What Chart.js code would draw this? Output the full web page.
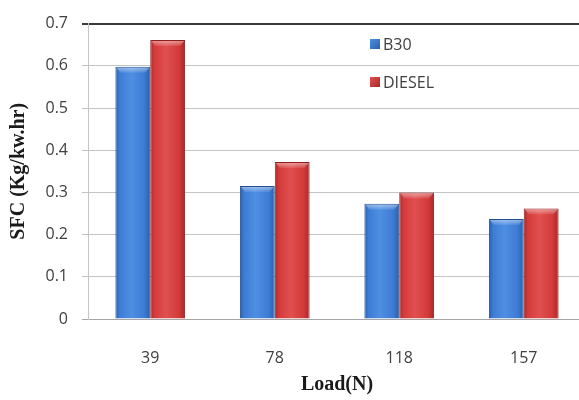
<!DOCTYPE html>
<html>
<head>
<meta charset="utf-8">
<script src="https://cdn.jsdelivr.net/npm/chart.js@4/dist/chart.umd.min.js"></script>
<style>
  html, body { margin: 0; padding: 0; background: #ffffff; overflow: hidden; }
  #wrap { width: 579px; height: 400px; overflow: hidden; position: relative; }
  canvas { display: block; }
</style>
</head>
<body>
<div id="wrap"><canvas id="c" width="590" height="400"></canvas></div>
<script>
// Specific fuel consumption at each engine load
const loads = ['39', '78', '118', '157'];
const sfcB30 = [0.598, 0.315, 0.273, 0.237];
const sfcDiesel = [0.661, 0.372, 0.300, 0.262];
const seriesNames = ['B30', 'DIESEL'];
const yTicks = [0, 0.1, 0.2, 0.3, 0.4, 0.5, 0.6, 0.7];

const palette = {
  B30: { light: '#4f8fe2', mid: '#3d7cd4', dark: '#2a5fae', edge: '#234f92' },
  DIESEL: { light: '#e05050', mid: '#d43a3a', dark: '#ab2828', edge: '#8e1f1f' }
};

// Horizontal shading and bevel for each bar
const barShade = {
  id: 'barShade',
  beforeDatasetsDraw(chart) {
    const ctx = chart.ctx;
    chart.data.datasets.forEach((ds, i) => {
      const p = palette[ds.label];
      chart.getDatasetMeta(i).data.forEach(el => {
        const l = el.x - el.width / 2, r = el.x + el.width / 2;
        const g = ctx.createLinearGradient(l, 0, r, 0);
        g.addColorStop(0, p.dark);
        g.addColorStop(0.12, p.mid);
        g.addColorStop(0.45, p.light);
        g.addColorStop(0.82, p.mid);
        g.addColorStop(1, p.dark);
        el.options = Object.assign({}, el.options, { backgroundColor: g, borderColor: p.edge });
      });
    });
  },
  afterDatasetsDraw(chart) {
    const ctx = chart.ctx;
    ctx.save();
    chart.data.datasets.forEach((ds, i) => {
      chart.getDatasetMeta(i).data.forEach(el => {
        const l = el.x - el.width / 2, r = el.x + el.width / 2, t = el.y;
        ctx.beginPath();
        ctx.moveTo(l + 1, t + 1);
        ctx.lineTo(r - 1, t + 1);
        ctx.lineTo(r - 5, t + 6);
        ctx.lineTo(l + 5, t + 6);
        ctx.closePath();
        const g = ctx.createLinearGradient(0, t, 0, t + 6);
        g.addColorStop(0, 'rgba(255,255,255,0.5)');
        g.addColorStop(1, 'rgba(255,255,255,0.08)');
        ctx.fillStyle = g;
        ctx.fill();
      });
    });
    ctx.restore();
  }
};

// Legend inside the plot area
const innerLegend = {
  id: 'innerLegend',
  afterDraw(chart) {
    const ctx = chart.ctx;
    ctx.save();
    ctx.font = '16px "Open Sans", sans-serif';
    ctx.textBaseline = 'middle';
    ctx.textAlign = 'left';
    chart.data.datasets.forEach((ds, i) => {
      const p = palette[ds.label];
      const y = 44 + i * 38;
      const g = ctx.createLinearGradient(370, y - 5, 380, y + 5);
      g.addColorStop(0, p.light);
      g.addColorStop(1, p.dark);
      ctx.fillStyle = g;
      ctx.fillRect(370, y - 5, 10, 10);
      ctx.fillStyle = '#404040';
      ctx.fillText(ds.label, 383, y + 1);
    });
    ctx.restore();
  }
};

new Chart(document.getElementById('c'), {
  type: 'bar',
  data: {
    labels: loads,
    datasets: [
      { label: seriesNames[0], data: sfcB30, backgroundColor: palette.B30.mid, borderColor: palette.B30.edge, borderWidth: 1 },
      { label: seriesNames[1], data: sfcDiesel, backgroundColor: palette.DIESEL.mid, borderColor: palette.DIESEL.edge, borderWidth: 1 }
    ]
  },
  options: {
    responsive: false,
    animation: false,
    layout: { padding: { top: 14, right: 4, left: 0, bottom: 0 } },
    plugins: { legend: { display: false }, tooltip: { enabled: false } },
    datasets: { bar: { categoryPercentage: 0.56, barPercentage: 1.0 } },
    scales: {
      x: {
        grid: { display: false },
        border: { display: true, color: '#a6a6a6', width: 1 },
        ticks: { color: '#404040', font: { family: 'Open Sans', size: 16 }, padding: 22 },
        title: { display: true, text: 'Load(N)', color: '#1a1a1a', font: { family: 'Liberation Serif', size: 20, weight: 'bold' }, padding: { top: 6, bottom: 3 } },
        afterFit(s) { s.height = 81; }
      },
      y: {
        min: 0, max: 0.7,
        afterBuildTicks(s) { s.ticks = yTicks.map(v => ({ value: v })); },
        grid: {
          color: c => (c.tick && c.tick.value === 0.7) ? '#3a3a3a' : (c.tick && c.tick.value === 0 ? '#a6a6a6' : '#c4c4c4'),
          lineWidth: c => (c.tick && c.tick.value === 0.7) ? 2 : 1,
          tickLength: 6,
          drawTicks: true
        },
        border: { display: true, color: '#c4c4c4', width: 1 },
        ticks: {
          color: '#404040', font: { family: 'Open Sans', size: 16 }, padding: 14,
          callback: v => String(v)
        },
        title: { display: true, text: 'SFC (Kg/kw.hr)', color: '#1a1a1a', font: { family: 'Liberation Serif', size: 20, weight: 'bold' }, padding: { top: 7, bottom: 0 } },
        afterFit(s) { s.width = 88; }
      }
    }
  },
  plugins: [barShade, innerLegend]
});
</script>
</body>
</html>
